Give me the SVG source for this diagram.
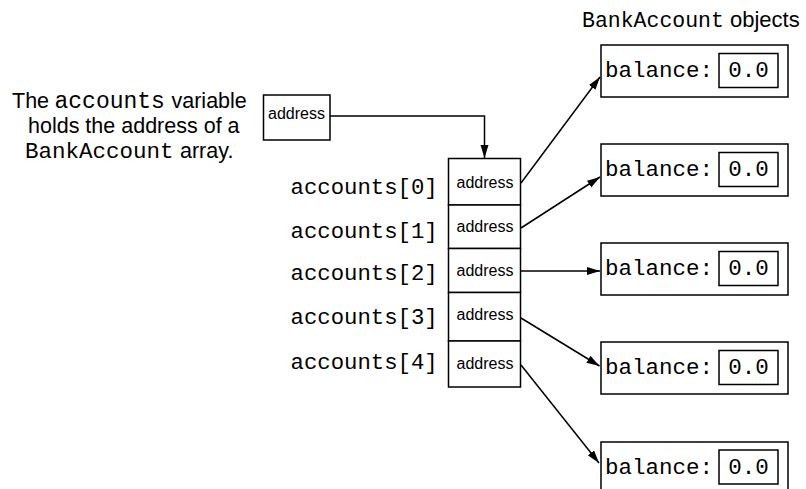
<svg xmlns="http://www.w3.org/2000/svg" width="806" height="489" viewBox="0 0 806 489">
<style>
.box{fill:#fff;stroke:#000;stroke-width:1.5}
.sans{font-family:"Liberation Sans",Arial,sans-serif;fill:#000}
.mono{font-family:"Liberation Mono","Courier New",monospace;fill:#000}
.cell{font-family:"Liberation Sans",Arial,sans-serif;font-size:16px;text-anchor:middle;fill:#000}
.bal{font-family:"Liberation Mono","Courier New",monospace;font-size:22.5px;fill:#000}
.conn{fill:none;stroke:#000;stroke-width:1.5}
</style>
<defs>
<marker id="ah" markerUnits="userSpaceOnUse" markerWidth="14" markerHeight="9" refX="13" refY="4" orient="auto">
<path d="M0,0 L13,4 L0,8 z" fill="#000"/>
</marker>
</defs>
<rect width="806" height="489" fill="#fff"/>

<g id="caption">
<text class="sans" font-size="21.5" y="108"><tspan x="12">The</tspan><tspan class="mono" font-size="23" x="54.5">accounts</tspan><tspan x="171.5">variable</tspan></text>
<text class="sans" font-size="21.5" x="28" y="133">holds the address of a</text>
<text y="157.5" font-size="21.5"><tspan class="mono" font-size="22.5" x="25">BankAccount</tspan><tspan class="sans" x="180">array.</tspan></text>
</g>

<g id="title">
<text y="27"><tspan class="mono" font-size="21.5" x="582">BankAccount</tspan><tspan class="sans" font-size="22" x="730">objects</tspan></text>
</g>

<g id="var">
<rect class="box" x="263.5" y="95" width="66.5" height="45"/>
<text class="cell" x="296.5" y="119">address</text>
</g>

<g id="array">
<rect class="box" x="448.5" y="158.5" width="72" height="46.5"/>
<rect class="box" x="448.5" y="205" width="72" height="43.5"/>
<rect class="box" x="448.5" y="248.5" width="72" height="44"/>
<rect class="box" x="448.5" y="292.5" width="72" height="48.5"/>
<rect class="box" x="448.5" y="341" width="72" height="46"/>
<text class="cell" x="485" y="188">address</text>
<text class="cell" x="485" y="232">address</text>
<text class="cell" x="485" y="276">address</text>
<text class="cell" x="485" y="319.5">address</text>
<text class="cell" x="485" y="368.5">address</text>
</g>

<g id="labels" class="mono" font-size="22.3">
<text x="290.5" y="193.5">accounts[0]</text>
<text x="290.5" y="237.5">accounts[1]</text>
<text x="290.5" y="280">accounts[2]</text>
<text x="290.5" y="324">accounts[3]</text>
<text x="290.5" y="368.5">accounts[4]</text>
</g>

<g id="obj0">
<rect class="box" x="601" y="45" width="187" height="52"/>
<rect class="box" x="719" y="53.5" width="59" height="34"/>
<text class="bal" x="605" y="77">balance:</text>
<text class="bal" x="748.5" y="77" text-anchor="middle">0.0</text>
</g>
<g id="obj1">
<rect class="box" x="601" y="144" width="187" height="52"/>
<rect class="box" x="719" y="152.5" width="59" height="34"/>
<text class="bal" x="605" y="176">balance:</text>
<text class="bal" x="748.5" y="176" text-anchor="middle">0.0</text>
</g>
<g id="obj2">
<rect class="box" x="601" y="243" width="187" height="52"/>
<rect class="box" x="719" y="251.5" width="59" height="34"/>
<text class="bal" x="605" y="275">balance:</text>
<text class="bal" x="748.5" y="275" text-anchor="middle">0.0</text>
</g>
<g id="obj3">
<rect class="box" x="601" y="342" width="187" height="52"/>
<rect class="box" x="719" y="350.5" width="59" height="34"/>
<text class="bal" x="605" y="374">balance:</text>
<text class="bal" x="748.5" y="374" text-anchor="middle">0.0</text>
</g>
<g id="obj4">
<rect class="box" x="601" y="442" width="187" height="52"/>
<rect class="box" x="719" y="450" width="59" height="34"/>
<text class="bal" x="605" y="474">balance:</text>
<text class="bal" x="748.5" y="474" text-anchor="middle">0.0</text>
</g>

<g id="connectors" class="conn">
<polyline class="conn" points="330,116 484.5,116 484.5,158" marker-end="url(#ah)"/>
<line class="conn" x1="521" y1="183" x2="600" y2="77" marker-end="url(#ah)"/>
<line class="conn" x1="521" y1="228" x2="600" y2="177" marker-end="url(#ah)"/>
<line class="conn" x1="521" y1="271" x2="600" y2="271" marker-end="url(#ah)"/>
<line class="conn" x1="521" y1="318" x2="599.5" y2="366" marker-end="url(#ah)"/>
<line class="conn" x1="521" y1="365" x2="599" y2="463" marker-end="url(#ah)"/>
</g>
</svg>
